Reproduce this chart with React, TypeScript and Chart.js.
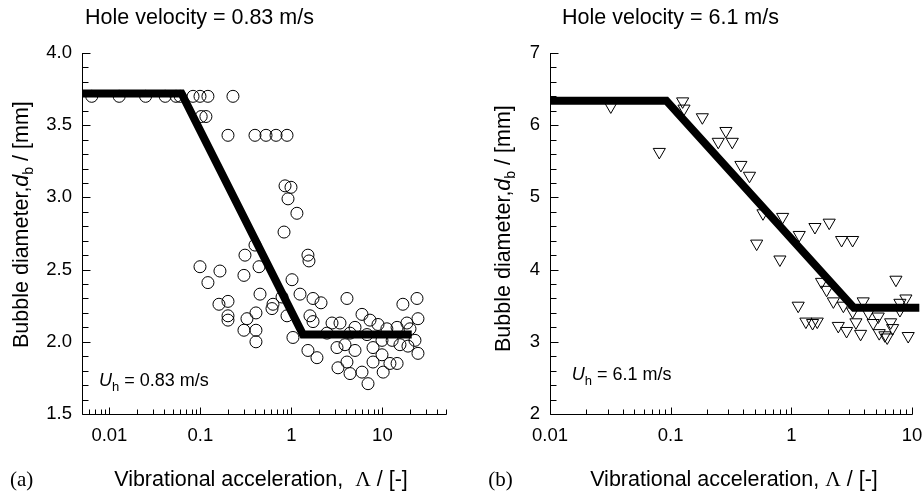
import React, { useEffect, useRef } from 'react';
import { Chart, registerables } from 'chart.js';

Chart.register(...registerables);

const SANS = '"Liberation Sans", Arial, Helvetica, sans-serif';
const SERIF = '"Liberation Serif", "Times New Roman", serif';

// ---------- Panel (a): hole velocity 0.83 m/s ----------
const titleA = 'Hole velocity = 0.83 m/s';
const noteValueA = ' = 0.83 m/s';
const xMajorA = [0.01, 0.1, 1, 10];
const xMajorLabelsA = ['0.01', '0.1', '1', '10'];
const yMajorA = [1.5, 2.0, 2.5, 3.0, 3.5, 4.0];
const yMajorLabelsA = ['1.5', '2.0', '2.5', '3.0', '3.5', '4.0'];
const fitLambdaA = [0.005, 0.062, 1.34, 21];
const fitDiameterA = [3.72, 3.72, 2.05, 2.05];
const bubblesA: [number, number][] = [
  [0.0064, 3.7], [0.0128, 3.7], [0.025, 3.7], [0.041, 3.7], [0.054, 3.7], [0.06, 3.7],
  [0.083, 3.7], [0.099, 3.7], [0.121, 3.7], [0.228, 3.7],
  [0.102, 3.56], [0.115, 3.56],
  [0.201, 3.43], [0.398, 3.43], [0.526, 3.43], [0.678, 3.43], [0.895, 3.43],
  [0.851, 3.08], [0.99, 3.07], [0.918, 2.99], [1.15, 2.89], [0.83, 2.76],
  [0.398, 2.67], [0.309, 2.6], [0.099, 2.52], [0.164, 2.49], [0.121, 2.41], [0.301, 2.46], [0.441, 2.52],
  [1.52, 2.6], [1.56, 2.56], [1.016, 2.43], [0.452, 2.33],
  [0.16, 2.26], [0.201, 2.28], [0.201, 2.18], [0.201, 2.15], [0.325, 2.16], [0.408, 2.2],
  [0.301, 2.08], [0.408, 2.08], [0.408, 2.0],
  [0.628, 2.26], [0.612, 2.23], [0.789, 2.31], [0.895, 2.18], [1.04, 2.03], [1.52, 1.94], [1.91, 1.89],
  [1.244, 2.33], [1.728, 2.3], [1.6, 2.18], [1.728, 2.14],
  [2.116, 2.27], [4.08, 2.3], [16.8, 2.26], [24.0, 2.3], [24.6, 2.16],
  [2.795, 2.13], [3.42, 2.13], [5.97, 2.19], [7.31, 2.15], [8.95, 2.12], [5.0, 2.1],
  [11.2, 2.09], [14.5, 2.1], [18.6, 2.13], [20.1, 2.09],
  [2.46, 2.06], [4.41, 2.06], [6.78, 2.05],
  [3.17, 1.96], [3.88, 1.98], [5.0, 1.94], [7.89, 1.96], [9.9, 2.01], [12.8, 2.01],
  [15.6, 1.98], [19.1, 1.97], [22.8, 2.01], [24.6, 1.92],
  [4.08, 1.86], [3.25, 1.82], [4.41, 1.78], [5.97, 1.79], [7.89, 1.86], [9.9, 1.91],
  [10.2, 1.79], [12.1, 1.85], [14.5, 1.85], [6.95, 1.71],
];

// ---------- Panel (b): hole velocity 6.1 m/s ----------
const titleB = 'Hole velocity = 6.1 m/s';
const noteValueB = ' = 6.1 m/s';
const xMajorB = [0.01, 0.1, 1, 10];
const xMajorLabelsB = ['0.01', '0.1', '1', '10'];
const yMajorB = [2, 3, 4, 5, 6, 7];
const yMajorLabelsB = ['2', '3', '4', '5', '6', '7'];
const fitLambdaB = [0.01, 0.092, 3.3, 11.5];
const fitDiameterB = [6.34, 6.34, 3.47, 3.47];
const bubblesB: [number, number][] = [
  [0.0319, 6.26], [0.1257, 6.33], [0.129, 6.23], [0.0805, 5.63], [0.183, 6.11],
  [0.287, 5.92], [0.248, 5.77], [0.324, 5.77],
  [0.382, 5.45], [0.45, 5.3], [0.582, 4.78], [0.847, 4.73],
  [1.569, 4.59], [2.06, 4.65], [1.163, 4.48], [2.61, 4.41], [3.22, 4.41], [0.516, 4.36], [0.804, 4.14],
  [7.36, 3.86], [1.78, 3.83], [1.96, 3.72], [2.23, 3.56], [2.7, 3.5], [1.14, 3.5],
  [3.94, 3.56], [8.9, 3.6], [7.94, 3.54],
  [3.22, 3.42], [4.34, 3.4], [5.25, 3.35], [7.94, 3.44],
  [1.32, 3.28], [1.5, 3.26], [1.64, 3.28], [3.43, 3.27], [4.77, 3.26], [6.65, 3.27], [6.91, 3.19],
  [2.45, 3.22], [2.87, 3.15], [3.75, 3.11], [5.35, 3.12], [5.96, 3.09], [6.23, 3.06], [9.3, 3.08],
];

type Seg = { t: string; font: string; dy?: number };

function drawRich(ctx: CanvasRenderingContext2D, segs: Seg[], x: number, y: number, align: 'left' | 'center') {
  let total = 0;
  for (const s of segs) {
    ctx.font = s.font;
    total += ctx.measureText(s.t).width;
  }
  let cx = align === 'center' ? x - total / 2 : x;
  ctx.textAlign = 'left';
  ctx.textBaseline = 'alphabetic';
  for (const s of segs) {
    ctx.font = s.font;
    ctx.fillText(s.t, cx, y + (s.dy || 0));
    cx += ctx.measureText(s.t).width;
  }
}

function logTicks(min: number, max: number): number[] {
  const out: number[] = [];
  for (let e = -4; e <= 3; e++) {
    for (let m = 1; m <= 9; m++) {
      const v = parseFloat((m * Math.pow(10, e)).toPrecision(3));
      if (v >= min * 0.9999 && v <= max * 1.0001) out.push(v);
    }
  }
  return out;
}

function linTicks(min: number, max: number, step: number): number[] {
  const out: number[] = [];
  const n = Math.round((max - min) / step);
  for (let i = 0; i <= n; i++) out.push(Math.round((min + i * step) * 1000) / 1000);
  return out;
}

function near(a: number, b: number) {
  return Math.abs(a - b) <= Math.abs(b) * 1e-6 + 1e-9;
}

interface Spec {
  id: string;
  title: string;
  titleX: number;
  xMin: number; xMax: number; xMajor: number[]; xMajorLabels: string[];
  yMin: number; yMax: number; yStep: number; yMajor: number[]; yMajorLabels: string[];
  fitX: number[]; fitY: number[];
  points: [number, number][];
  pointStyle: 'circle' | 'triangle';
  pointRadius: number;
  pointRotation: number;
  yAxisWidth: number;
  rightPad: number;
  xTitleX: number;
  xTitleGap: string;
  tag: string; tagX: number;
  yTitleX: number; yTitleY: number;
  noteValue: string; noteX: number; noteY: number;
}

const specA: Spec = {
  id: 'a', title: titleA, titleX: 199.5,
  xMin: 0.005, xMax: 50, xMajor: xMajorA, xMajorLabels: xMajorLabelsA,
  yMin: 1.5, yMax: 4.0, yStep: 0.1, yMajor: yMajorA, yMajorLabels: yMajorLabelsA,
  fitX: fitLambdaA, fitY: fitDiameterA, points: bubblesA,
  pointStyle: 'circle', pointRadius: 6, pointRotation: 0,
  yAxisWidth: 82, rightPad: 15,
  xTitleX: 261, xTitleGap: ',  ',
  tag: '(a)', tagX: 10,
  yTitleX: 28, yTitleY: 348,
  noteValue: noteValueA, noteX: 99, noteY: 385.5,
};

const specB: Spec = {
  id: 'b', title: titleB, titleX: 209.5,
  xMin: 0.01, xMax: 10, xMajor: xMajorB, xMajorLabels: xMajorLabelsB,
  yMin: 2, yMax: 7, yStep: 0.2, yMajor: yMajorB, yMajorLabels: yMajorLabelsB,
  fitX: fitLambdaB, fitY: fitDiameterB, points: bubblesB,
  pointStyle: 'triangle', pointRadius: 7, pointRotation: 180,
  yAxisWidth: 89, rightPad: 10,
  xTitleX: 273, xTitleGap: ', ',
  tag: '(b)', tagX: 27.3,
  yTitleX: 49, yTitleY: 352,
  noteValue: noteValueB, noteX: 110.7, noteY: 380,
};

function makePlugin(spec: Spec) {
  return {
    id: 'decor_' + spec.id,
    beforeDatasetsDraw(chart: any) {
      const ctx: CanvasRenderingContext2D = chart.ctx;
      const { left, right, top, bottom } = chart.chartArea;
      const xs = chart.scales.x;
      const ys = chart.scales.y;
      ctx.save();
      ctx.strokeStyle = '#000';
      ctx.lineWidth = 1;
      ctx.beginPath();
      const lx = Math.round(left) + 0.5;
      const by = Math.round(bottom) + 0.5;
      ctx.moveTo(lx, top);
      ctx.lineTo(lx, by);
      ctx.lineTo(right + 0.5, by);
      for (const t of xs.ticks) {
        const px = Math.round(xs.getPixelForValue(t.value)) + 0.5;
        const major = spec.xMajor.some((m) => near(t.value, m));
        const len = major ? 7 : 5;
        ctx.moveTo(px, by);
        ctx.lineTo(px, by - len);
      }
      for (const t of ys.ticks) {
        const py = Math.round(ys.getPixelForValue(t.value)) + 0.5;
        const major = spec.yMajor.some((m) => near(t.value, m));
        const len = major ? 8 : 6;
        ctx.moveTo(lx, py);
        ctx.lineTo(lx + len, py);
      }
      ctx.stroke();
      ctx.restore();
    },
    afterDraw(chart: any) {
      const ctx: CanvasRenderingContext2D = chart.ctx;
      ctx.save();
      ctx.fillStyle = '#000';
      const F = (s: number, extra = '') => `${extra}${s}px ${SANS}`;
      // title
      drawRich(ctx, [{ t: spec.title, font: F(21.5) }], spec.titleX, 23.5, 'center');
      // x title
      drawRich(
        ctx,
        [
          { t: 'Vibrational acceleration' + spec.xTitleGap, font: F(21.5) },
          { t: 'Λ', font: `21.5px ${SERIF}` },
          { t: ' / [-]', font: F(21.5) },
        ],
        spec.xTitleX,
        486,
        'center'
      );
      // panel tag
      drawRich(ctx, [{ t: spec.tag, font: `21px ${SERIF}` }], spec.tagX, 486, 'left');
      // annotation
      drawRich(
        ctx,
        [
          { t: 'U', font: F(18, 'italic ') },
          { t: 'h', font: F(13), dy: 5 },
          { t: spec.noteValue, font: F(18) },
        ],
        spec.noteX,
        spec.noteY,
        'left'
      );
      // y title (rotated)
      ctx.translate(spec.yTitleX, spec.yTitleY);
      ctx.rotate(-Math.PI / 2);
      drawRich(
        ctx,
        [
          { t: 'Bubble diameter,', font: F(21.5) },
          { t: 'd', font: F(21.5, 'italic ') },
          { t: 'b', font: F(14), dy: 5 },
          { t: ' / [mm]', font: F(21.5) },
        ],
        0,
        0,
        'left'
      );
      ctx.restore();
    },
  };
}

function Panel({ spec }: { spec: Spec }) {
  const ref = useRef<HTMLCanvasElement>(null);
  useEffect(() => {
    const canvas = ref.current;
    if (!canvas) return;
    const xAll = logTicks(spec.xMin, spec.xMax);
    const yAll = linTicks(spec.yMin, spec.yMax, spec.yStep);
    const tickFont = { family: SANS, size: 18.5 };
    const chart = new Chart(canvas, {
      type: 'scatter',
      data: {
        datasets: [
          {
            type: 'line',
            data: spec.fitX.map((x, i) => ({ x, y: spec.fitY[i] })),
            borderColor: '#000',
            borderWidth: 8,
            pointRadius: 0,
            fill: false,
            tension: 0,
            clip: false,
            borderJoinStyle: 'miter',
            borderCapStyle: 'butt',
          } as any,
          {
            type: 'scatter',
            data: spec.points.map(([x, y]) => ({ x, y })),
            pointStyle: spec.pointStyle,
            pointRadius: spec.pointRadius,
            pointRotation: spec.pointRotation,
            pointBorderWidth: 1,
            pointBorderColor: '#000',
            pointBackgroundColor: 'rgba(0,0,0,0)',
            borderColor: '#000',
            backgroundColor: 'rgba(0,0,0,0)',
            clip: false,
          } as any,
        ],
      },
      options: {
        responsive: false,
        animation: false,
        devicePixelRatio: 1,
        events: [],
        layout: { padding: { left: 0, top: 53, right: spec.rightPad, bottom: 0 } },
        plugins: { legend: { display: false }, tooltip: { enabled: false }, title: { display: false } },
        scales: {
          x: {
            type: 'logarithmic',
            position: 'bottom',
            min: spec.xMin,
            max: spec.xMax,
            afterBuildTicks: (s: any) => {
              s.ticks = xAll.map((v) => ({ value: v }));
            },
            afterFit: (s: any) => {
              s.height = 80;
              s.paddingLeft = 0;
              s.paddingRight = 0;
            },
            grid: { display: false, drawTicks: false },
            border: { display: false },
            ticks: {
              autoSkip: false,
              maxRotation: 0,
              minRotation: 0,
              padding: 11,
              color: '#000',
              font: tickFont,
              callback: (value: any) => {
                const i = spec.xMajor.findIndex((m) => near(Number(value), m));
                return i >= 0 ? spec.xMajorLabels[i] : '';
              },
            },
          },
          y: {
            type: 'linear',
            position: 'left',
            min: spec.yMin,
            max: spec.yMax,
            afterBuildTicks: (s: any) => {
              s.ticks = yAll.map((v) => ({ value: v }));
            },
            afterFit: (s: any) => {
              s.width = spec.yAxisWidth;
              s.paddingTop = 0;
              s.paddingBottom = 0;
            },
            grid: { display: false, drawTicks: false },
            border: { display: false },
            ticks: {
              autoSkip: false,
              padding: 10,
              color: '#000',
              font: tickFont,
              callback: (value: any) => {
                const i = spec.yMajor.findIndex((m) => near(Number(value), m));
                return i >= 0 ? spec.yMajorLabels[i] : '';
              },
            },
          },
        },
      } as any,
      plugins: [makePlugin(spec) as any],
    });
    return () => chart.destroy();
  }, [spec]);
  return (
    <canvas
      ref={ref}
      width={461}
      height={494}
      style={{ display: 'block', width: 461, height: 494 }}
    />
  );
}

export default function App() {
  return (
    <div
      style={{
        position: 'fixed',
        left: 0,
        top: 0,
        width: 922,
        height: 494,
        background: '#fff',
        display: 'flex',
        overflow: 'hidden',
      }}
    >
      <Panel spec={specA} />
      <Panel spec={specB} />
    </div>
  );
}
